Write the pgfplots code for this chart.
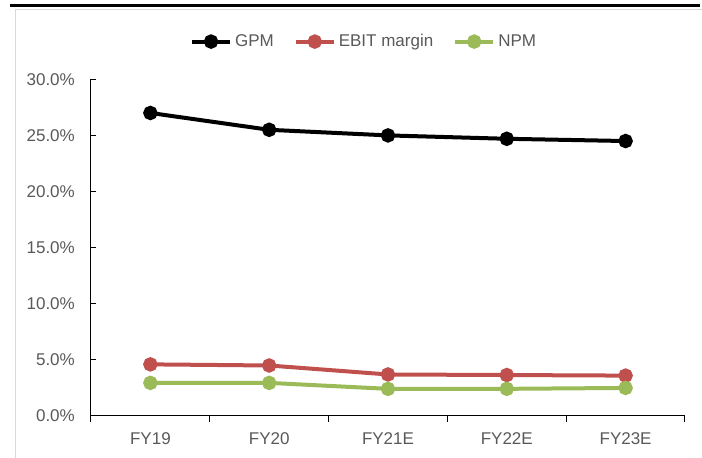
\documentclass[border=0pt]{standalone}
\usepackage{pgfplots}
\pgfplotsset{compat=1.18}
\usepackage{fontspec}
\setmainfont{Liberation Sans}

\definecolor{gpmcol}{HTML}{000000}
\definecolor{ebitcol}{HTML}{C0504D}
\definecolor{npmcol}{HTML}{9BBB59}
\definecolor{labgray}{HTML}{595959}
\definecolor{framegray}{HTML}{D9D9D9}

\begin{document}
\begin{tikzpicture}[x=1pt,y=1pt]
\useasboundingbox (0,0) rectangle (702,458);
% panel frame and heading rule
\draw[framegray, line width=1pt] (15,0) -- (15,448.7) -- (702,448.7);
\draw[black, line width=3pt] (10,452) -- (700,452);

\begin{axis}[
  at={(91pt,42pt)}, anchor=south west,
  scale only axis, width=594pt, height=336.7pt,
  xmin=-0.5, xmax=4.5, ymin=0, ymax=30,
  axis x line*=bottom, axis y line*=left,
  axis line style={black, line width=1pt},
  xtick={0,1,2,3,4},
  xticklabels={FY19,FY20,FY21E,FY22E,FY23E},
  major x tick style={draw=none},
  minor xtick={-0.5,0.5,1.5,2.5,3.5,4.5},
  minor tick length=6pt,
  minor x tick style={black, line width=1pt, yshift=-6pt},
  ytick={0,5,10,15,20,25,30},
  major tick length=5pt,
  tick align=inside,
  major y tick style={black, line width=1pt},
  /pgf/number format/assume math mode=true,
  yticklabel={\pgfmathprintnumber[fixed,fixed zerofill,precision=1]{\tick}\%},
  ticklabel style={font=\fontsize{17}{20}\selectfont, text=labgray, inner sep=0pt},
  yticklabel style={anchor=east, xshift=-16pt},
  xticklabel style={anchor=base, yshift=-29pt},
  legend columns=3,
  legend style={at={(axis description cs:0.458,1.112)}, anchor=center,
    draw=none, fill=none, font=\fontsize{17}{20}\selectfont, text=labgray,
    nodes={inner sep=0pt},
    /tikz/every odd column/.append style={column sep=3pt},
    /tikz/every even column/.append style={column sep=20pt}},
  legend image code/.code={\draw[mark repeat=2,mark phase=2]
    plot coordinates {(0pt,0pt) (19pt,0pt) (38pt,0pt)};},
  every axis plot/.append style={line width=4pt, mark=*, mark size=5.2pt,
    mark options={line width=0pt}},
]
\addplot[color=gpmcol, mark options={fill=gpmcol}] coordinates
  {(0,27.0) (1,25.5) (2,25.0) (3,24.7) (4,24.5)};
\addlegendentry{GPM}
\addplot[color=ebitcol, mark options={fill=ebitcol}] coordinates
  {(0,4.6) (1,4.5) (2,3.7) (3,3.65) (4,3.6)};
\addlegendentry{EBIT margin}
\addplot[color=npmcol, mark options={fill=npmcol}] coordinates
  {(0,2.95) (1,2.95) (2,2.42) (3,2.42) (4,2.5)};
\addlegendentry{NPM}
\end{axis}
\end{tikzpicture}
\end{document}
